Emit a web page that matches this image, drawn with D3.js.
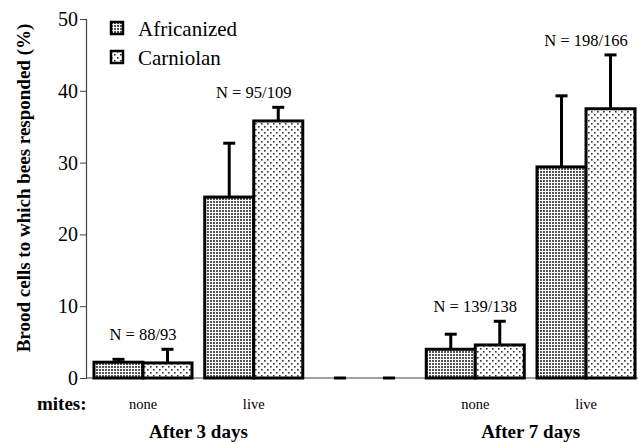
<!DOCTYPE html>
<html>
<head>
<meta charset="utf-8">
<script src="https://cdn.jsdelivr.net/npm/d3@7"></script>
<style>
  body { margin: 0; background: #fff; }
  svg text { font-family: "Liberation Serif", "Times New Roman", Times, serif !important; }
</style>
</head>
<body>
<div id="chart"></div>
<script>
// data
var groups = ["3-none", "3-live", "gap", "7-none", "7-live"];
var series = ["Africanized", "Carniolan"];
var africanized = [2.2, 25.2, 0, 4.0, 29.4];
var africanizedErr = [0.4, 7.5, 0, 2.1, 9.9];
var carniolan = [2.1, 35.8, 0, 4.6, 37.5];
var carniolanErr = [1.9, 1.9, 0, 3.3, 7.5];
var nLabels = ["N = 88/93", "N = 95/109", "", "N = 139/138", "N = 198/166"];
var miteLabels = ["none", "live", "", "none", "live"];
var yTicks = [0, 10, 20, 30, 40, 50];

var width = 638, height = 442;
var margin = {top: 19, left: 86, bottom: 64};

var svg = d3.select("#chart").append("svg")
    .attr("width", width)
    .attr("height", height);

// dot patterns for the two series
var defs = svg.append("defs");
var pA = defs.append("pattern").attr("id", "patA")
    .attr("patternUnits", "userSpaceOnUse").attr("width", 3).attr("height", 3);
pA.append("rect").attr("width", 3).attr("height", 3).attr("fill", "#fff");
pA.append("rect").attr("width", 2).attr("height", 2).attr("fill", "#555");
var pC = defs.append("pattern").attr("id", "patC")
    .attr("patternUnits", "userSpaceOnUse").attr("width", 6).attr("height", 6);
pC.append("rect").attr("width", 6).attr("height", 6).attr("fill", "#fff");
pC.append("rect").attr("x", 0).attr("y", 0).attr("width", 1.6).attr("height", 1.6).attr("fill", "#333");
pC.append("rect").attr("x", 3).attr("y", 3).attr("width", 1.6).attr("height", 1.6).attr("fill", "#333");
var fills = ["url(#patA)", "url(#patC)"];

var x = d3.scaleBand().domain(groups).range([87.6, 641.4]).paddingInner(0.115).paddingOuter(0.0575);
var xs = d3.scaleBand().domain(series).range([0, x.bandwidth()]);
var y = d3.scaleLinear().domain([0, 50]).range([378, 19]);

// axes
var yAxis = svg.append("g").attr("transform", "translate(" + margin.left + ",0)")
    .call(d3.axisLeft(y).tickValues(yTicks).tickSize(6).tickPadding(2));
yAxis.select(".domain").attr("stroke", "#444").attr("stroke-width", 1.2);
yAxis.selectAll(".tick line").attr("stroke", "#444");
yAxis.selectAll("text").attr("font-size", 20).attr("fill", "#000");

svg.append("line")
    .attr("x1", margin.left).attr("x2", width)
    .attr("y1", y(0)).attr("y2", y(0))
    .attr("stroke", "#444").attr("stroke-width", 1.2);

// build bar records
var bars = [];
groups.forEach(function(g, i) {
    bars.push({g: g, s: series[0], v: africanized[i], e: africanizedErr[i], k: 0});
    bars.push({g: g, s: series[1], v: carniolan[i], e: carniolanErr[i], k: 1});
});

var nonzero = bars.filter(function(d) { return d.v > 0; });
var zero = bars.filter(function(d) { return d.v === 0; });

svg.selectAll("rect.bar").data(nonzero).enter().append("rect")
    .attr("class", "bar")
    .attr("x", function(d) { return x(d.g) + xs(d.s); })
    .attr("y", function(d) { return y(d.v); })
    .attr("width", xs.bandwidth())
    .attr("height", function(d) { return y(0) - y(d.v); })
    .attr("fill", function(d) { return fills[d.k]; })
    .attr("stroke", "#000").attr("stroke-width", 3);

// empty categories drawn as short dashes
svg.selectAll("line.zero").data(zero).enter().append("line")
    .attr("class", "zero")
    .attr("x1", function(d) { return x(d.g) + xs(d.s) + xs.bandwidth() / 2 - 6; })
    .attr("x2", function(d) { return x(d.g) + xs(d.s) + xs.bandwidth() / 2 + 6; })
    .attr("y1", y(0)).attr("y2", y(0))
    .attr("stroke", "#000").attr("stroke-width", 3);

// error bars (upper only)
var err = svg.selectAll("g.err").data(nonzero).enter().append("g").attr("class", "err");
err.append("line")
    .attr("x1", function(d) { return x(d.g) + xs(d.s) + xs.bandwidth() / 2; })
    .attr("x2", function(d) { return x(d.g) + xs(d.s) + xs.bandwidth() / 2; })
    .attr("y1", function(d) { return y(d.v) - 1; })
    .attr("y2", function(d) { return y(d.v + d.e); })
    .attr("stroke", "#000").attr("stroke-width", 3);
err.append("line")
    .attr("x1", function(d) { return x(d.g) + xs(d.s) + xs.bandwidth() / 2 - 6; })
    .attr("x2", function(d) { return x(d.g) + xs(d.s) + xs.bandwidth() / 2 + 6; })
    .attr("y1", function(d) { return y(d.v + d.e); })
    .attr("y2", function(d) { return y(d.v + d.e); })
    .attr("stroke", "#000").attr("stroke-width", 3);

// N labels above each pair
groups.forEach(function(g, i) {
    if (!nLabels[i]) return;
    var top = Math.max(africanized[i] + africanizedErr[i], carniolan[i] + carniolanErr[i]);
    svg.append("text")
        .attr("x", x(g) + x.bandwidth() / 2)
        .attr("y", y(top) - 9)
        .attr("text-anchor", "middle")
        .attr("font-size", 16.5)
        .text(nLabels[i]);
});

// mites row
svg.append("text").attr("x", 37).attr("y", 410)
    .attr("font-size", 19).attr("font-weight", "bold").text("mites:");
groups.forEach(function(g, i) {
    if (!miteLabels[i]) return;
    svg.append("text")
        .attr("x", x(g) + x.bandwidth() / 2)
        .attr("y", 409)
        .attr("text-anchor", "middle")
        .attr("font-size", 14.5)
        .text(miteLabels[i]);
});

// period labels
var periods = [["3-none", "3-live", "After 3 days"], ["7-none", "7-live", "After 7 days"]];
periods.forEach(function(p) {
    var cx = (x(p[0]) + x(p[1]) + x.bandwidth()) / 2;
    svg.append("text")
        .attr("x", cx).attr("y", 438)
        .attr("text-anchor", "middle")
        .attr("font-size", 19).attr("font-weight", "bold")
        .text(p[2]);
});

// y axis title
svg.append("text")
    .attr("transform", "translate(30," + 188 + ") rotate(-90)")
    .attr("text-anchor", "middle")
    .attr("font-size", 19).attr("font-weight", "bold")
    .text("Brood cells to which bees responded (%)");

// legend
var legend = svg.selectAll("g.legend").data(series).enter().append("g")
    .attr("class", "legend")
    .attr("transform", function(d, i) { return "translate(111," + (22 + i * 29) + ")"; });
legend.append("rect")
    .attr("width", 12).attr("height", 12)
    .attr("fill", function(d, i) { return fills[i]; })
    .attr("stroke", "#000").attr("stroke-width", 2.5);
legend.append("text")
    .attr("x", 27).attr("y", 14)
    .attr("font-size", 21)
    .text(function(d) { return d; });
</script>
</body>
</html>
